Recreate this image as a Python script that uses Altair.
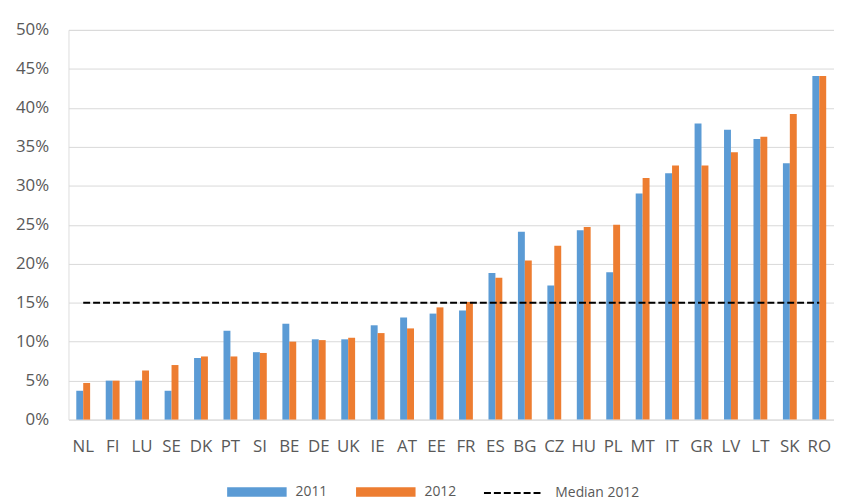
import altair as alt
import pandas as pd

countries = ["NL", "FI", "LU", "SE", "DK", "PT", "SI", "BE", "DE", "UK", "IE", "AT", "EE",
             "FR", "ES", "BG", "CZ", "HU", "PL", "MT", "IT", "GR", "LV", "LT", "SK", "RO"]
values_2011 = [3.7, 5.0, 5.0, 3.7, 7.9, 11.4, 8.65, 12.3, 10.3, 10.3, 12.1, 13.1, 13.6,
               14.0, 18.8, 24.1, 17.2, 24.3, 18.9, 29.0, 31.6, 38.0, 37.2, 36.0, 32.9, 44.1]
values_2012 = [4.7, 5.0, 6.3, 7.0, 8.1, 8.1, 8.55, 10.0, 10.2, 10.5, 11.1, 11.7, 14.4,
               15.1, 18.2, 20.4, 22.3, 24.7, 25.0, 31.0, 32.6, 32.6, 34.3, 36.3, 39.2, 44.1]
median_2012 = 15.0
bar_series = ["2011", "2012"]
bar_colors = ["#5b9bd5", "#ed7d31"]
median_name = "Median 2012"
y_ticks = [0, 5, 10, 15, 20, 25, 30, 35, 40, 45, 50]

bars_df = pd.DataFrame({
    "country": countries * 2,
    "series": ["2011"] * len(countries) + ["2012"] * len(countries),
    "value": values_2011 + values_2012,
})
median_df = pd.DataFrame({"country": countries,
                          "value": [median_2012] * len(countries),
                          "series": [median_name] * len(countries)})

FONT = "Open Sans"
LABEL_COLOR = "#595959"

x_axis = alt.Axis(labelAngle=0, domain=False, ticks=False, grid=False,
                  labelPadding=19, labelFontSize=17, labelFont=FONT,
                  labelColor=LABEL_COLOR)
y_axis = alt.Axis(values=y_ticks, labelExpr="datum.value + '%'",
                  domain=False, ticks=False, grid=True, labelOverlap=False,
                  gridColor="#d9d9d9", gridWidth=1,
                  labelPadding=20, labelFontSize=17, labelFont=FONT,
                  labelColor=LABEL_COLOR)
x_scale = alt.Scale(paddingInner=0.53, paddingOuter=0.265)
y_scale = alt.Scale(domain=[0, 50], nice=False)

bar_legend = alt.Legend(
    title=None, orient="none", direction="horizontal",
    legendX=160, legendY=436, padding=0,
    columnPadding=28, labelOffset=9,
    labelFont=FONT, labelFontSize=14, labelColor=LABEL_COLOR,
    symbolSize=3600, symbolType="M-1,-0.16L1,-0.16L1,0.16L-1,0.16Z",
    symbolStrokeWidth=0, symbolOpacity=1,
)
median_legend = alt.Legend(
    title=None, orient="none", direction="horizontal",
    legendX=418, legendY=436, padding=0, labelOffset=11,
    labelFont=FONT, labelFontSize=14, labelColor=LABEL_COLOR,
    symbolSize=3600, symbolType="M-1,0L1,0",
    symbolStrokeColor="#000000", symbolStrokeWidth=2, symbolOpacity=1,
)

bars = alt.Chart(bars_df).mark_bar().encode(
    x=alt.X("country:N", sort=countries, title=None, scale=x_scale, axis=x_axis),
    xOffset=alt.XOffset("series:N", scale=alt.Scale(paddingInner=0, paddingOuter=0)),
    y=alt.Y("value:Q", title=None, scale=y_scale, axis=y_axis),
    color=alt.Color("series:N", scale=alt.Scale(domain=bar_series, range=bar_colors),
                    legend=bar_legend),
)

median_line = alt.Chart(median_df).mark_line(strokeWidth=2, color="#000000").encode(
    x=alt.X("country:N", sort=countries, title=None, scale=x_scale, axis=x_axis),
    y=alt.Y("value:Q", title=None, scale=y_scale, axis=y_axis),
    strokeDash=alt.StrokeDash("series:N",
                              scale=alt.Scale(domain=[median_name], range=[[7, 3]]),
                              legend=median_legend),
)

chart = alt.layer(bars, median_line).resolve_scale(
    color="independent", strokeDash="independent"
).resolve_legend(color="independent", strokeDash="independent").properties(
    width=772, height=393,
    autosize=alt.AutoSizeParams(type="none"),
    padding={"left": 61, "top": 20, "right": 0, "bottom": 79},
).configure_view(
    stroke="transparent", strokeWidth=0, strokeOpacity=0
).configure_axis(
    domain=False, domainOpacity=0, domainColor="transparent", ticks=False
).configure_axisY(
    domain=False, domainOpacity=0
).configure(font=FONT)

chart.save("out.html", embed_options={"renderer": "svg", "actions": False})
